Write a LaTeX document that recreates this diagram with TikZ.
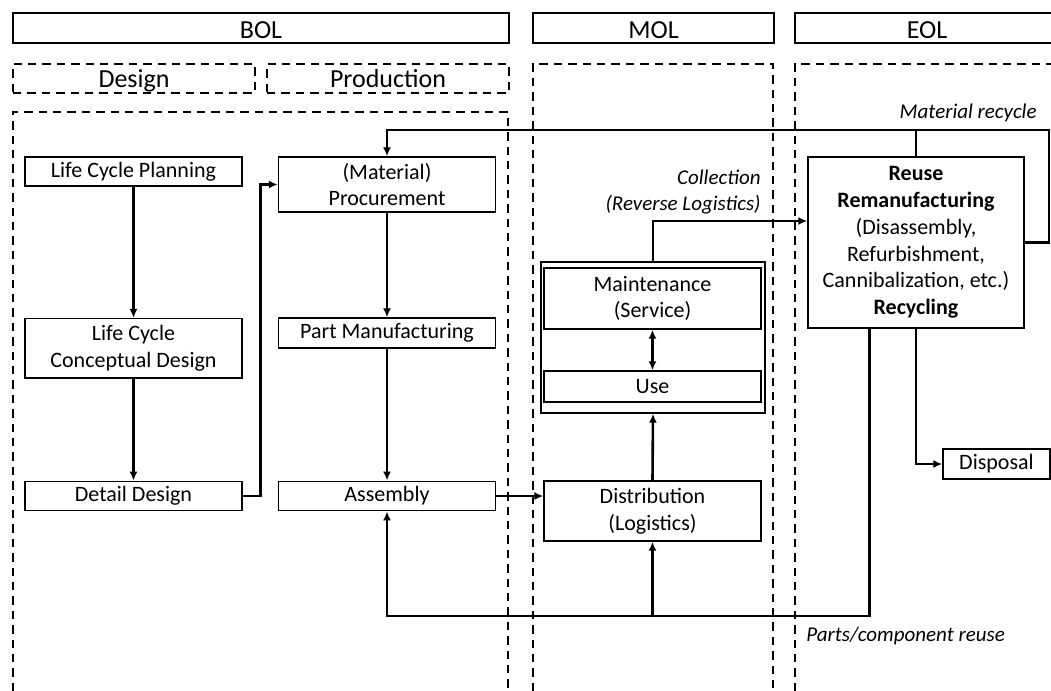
\documentclass[tikz,border=0pt]{standalone}
\usepackage{fontspec}
\setmainfont{Carlito}
\usetikzlibrary{arrows.meta}

\begin{document}
\begin{tikzpicture}
	[x=0.5pt,y=-0.5pt,
	 stagebox/.style={draw,line width=1.3pt,minimum height=15pt,inner sep=0pt,text height=10.5pt,text depth=0.5pt,font=\fontsize{13}{15}\selectfont},
	 phasebox/.style={draw,dash pattern=on 4.2pt off 3pt,line width=1.3pt,minimum height=14.5pt,minimum width=121pt,inner sep=0pt,text height=9pt,text depth=0.5pt,font=\fontsize{13}{15}\selectfont},
	 lanebox/.style={dash pattern=on 4.2pt off 3pt,line width=1.3pt},
	 actbox/.style={draw,line width=0.7pt,minimum width=108.5pt,inner sep=0pt,align=center,font=\fontsize{11}{13.4}\selectfont},
	 note/.style={inner sep=0pt,font=\fontsize{10.5}{13}\selectfont\itshape},
	 wire/.style={line width=1.3pt},
	 flow/.style={wire,-{Latex[length=4.5pt,width=4pt]}},
	 twoway/.style={wire,{Latex[length=4.5pt,width=4pt]}-{Latex[length=4.5pt,width=4pt]}}]
\useasboundingbox (0,0) rectangle (1051,691);
% stages and phases
\node[stagebox,minimum width=248pt] (bol) at (261,28) {BOL};
\node[stagebox,minimum width=120.5pt] (mol) at (653.5,28) {MOL};
\node[stagebox,minimum width=132pt] (eol) at (927,28) {EOL};
\node[phasebox] (design) at (134,78.5) {Design};
\node[phasebox] (prod) at (388,78.5) {Production};
% lanes run off the bottom of the page
\draw[lanebox] (13,720) rectangle (508,112);
\draw[lanebox] (533,720) rectangle (773,64);
\draw[lanebox] (795,720) rectangle (1070,64);
% activities
\node[actbox,minimum height=14.5pt] (lcp) at (133.5,171.5) {Life Cycle Planning};
\node[actbox,minimum height=29.7pt] (lccd) at (133.5,348.3) {Life Cycle\\Conceptual Design};
\node[actbox,minimum height=14.75pt] (dd) at (133.5,496) {Detail Design};
\node[actbox,minimum height=27.5pt] (proc) at (387,184.5) {(Material)\\Procurement};
\node[actbox,minimum height=15pt] (pm) at (387,333) {Part Manufacturing};
\node[actbox,minimum height=14.75pt] (asm) at (387,496) {Assembly};
\node[draw,line width=0.7pt,minimum width=112pt,minimum height=75.5pt,inner sep=0pt] (usephase) at (653,337.5) {};
\node[actbox,minimum height=30.5pt] (maint) at (652.5,298.5) {Maintenance\\(Service)};
\node[actbox,minimum height=15.5pt] (use) at (652.5,386.5) {Use};
\node[actbox,minimum height=30pt] (dist) at (652.5,511) {Distribution\\(Logistics)};
\node[actbox,minimum width=108pt,minimum height=85.5pt] (reuse) at (916,242.5)
  {\textbf{Reuse}\\\textbf{Remanufacturing}\\(Disassembly,\\Refurbishment,\\Cannibalization, etc.)\\\textbf{Recycling}};
\node[actbox,minimum width=53.5pt,minimum height=15pt] (disp) at (996.5,464) {Disposal};
% flow labels
\node[note,anchor=east,align=right] (collect) at (761,192) {Collection\\(Reverse Logistics)};
\node[note,anchor=east] (matrec) at (1037,113) {Material recycle};
\node[note,anchor=west] (partre) at (806,636) {Parts/component reuse};
% connectors
\coordinate (mrc) at (1049,130);
\coordinate (colc) at (653,221);
\coordinate (prc) at (869.5,616);
\foreach \a/\b in {lcp/lccd,lccd/dd,proc/pm,pm/asm}
\draw[flow] (\a.south) -- (\b.north);
\draw[flow] (dd.east) -- ++(18,0) |- (proc.west);
\draw[flow] (asm.east) -- (asm.east -| dist.west);
\draw[flow] (dist.north) -- (usephase.south);
\draw[twoway] (maint.south) -- (use.north);
\draw[flow] (usephase.north) |- (colc -| reuse.west);
\draw[flow] (reuse.east) -| (mrc) -| (proc.north);
\draw[wire] (reuse.north) -- (reuse.north |- mrc);
\draw[flow] (reuse.south) |- (disp.west);
\draw[flow] (prc |- reuse.south) -- (prc) -| (asm.south);
\draw[flow] (dist.south |- prc) -- (dist.south);
\end{tikzpicture}
\end{document}
